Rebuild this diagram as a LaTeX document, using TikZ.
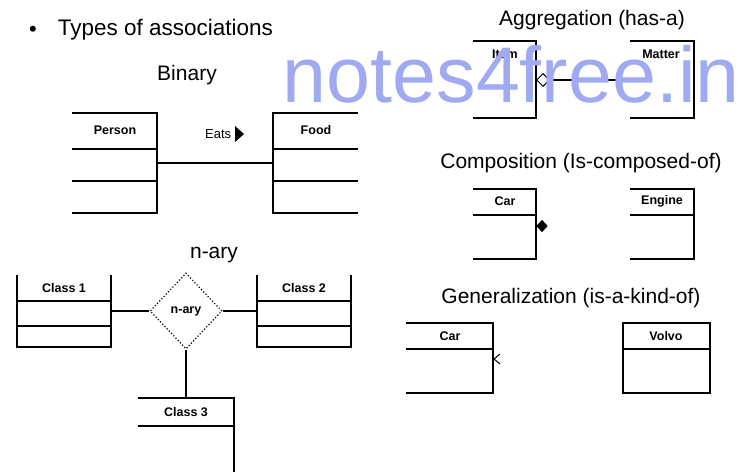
\documentclass[tikz,border=0pt]{standalone}
\usepackage{fontspec}
\setmainfont{Liberation Sans}
\usetikzlibrary{shapes.geometric,arrows.meta}
\definecolor{markblue}{RGB}{160,170,242}

\begin{document}
\begin{tikzpicture}[x=1pt,y=-1pt,line width=1.6pt,
  heading/.style={font=\fontsize{21}{23}\selectfont, inner sep=0pt},
  clsname/.style={font=\bfseries\fontsize{12.5}{14}\selectfont, inner sep=0pt},
  rel/.style={line width=1.6pt}]
\useasboundingbox (0,0) rectangle (739,472);

% headings
\node[anchor=center, inner sep=0pt, font=\fontsize{22}{22}\selectfont] (dot) at (33,31) {\textbullet};
\node[heading, anchor=west, font=\fontsize{22.5}{24}\selectfont] (types) at (57,30) {Types of associations};
\node[heading] (binary) at (187,75) {Binary};
\node[heading] (naryhead) at (214,255) {n-ary};
\node[heading] (agghead) at (592,20) {Aggregation (has-a)};
\node[heading] (comphead) at (581,163) {Composition (Is-composed-of)};
\node[heading] (genhead) at (571,298) {Generalization (is-a-kind-of)};

% binary
\draw (72,113) -- (157,113) -- (157,213) -- (72,213);
\draw (72,149) -- (157,149);
\draw (72,181) -- (157,181);
\node[clsname] (person) at (115,130) {Person};
\draw (358,113) -- (273,113) -- (273,213) -- (358,213);
\draw (273,149) -- (358,149);
\draw (273,181) -- (358,181);
\node[clsname] (food) at (316,130) {Food};
\coordinate (person-e) at (157,163);
\coordinate (food-w) at (273,163);
\draw[rel] (person-e) -- (food-w);
\node[clsname, font=\fontsize{13}{15}\selectfont, anchor=east] (eats) at (232,134) {Eats};
\fill (235,126) -- (244,134) -- (235,142) -- cycle;

% n-ary
\draw (17,275) -- (17,347) -- (111,347) -- (111,275);
\draw (17,301) -- (111,301);
\draw (17,326) -- (111,326);
\node[clsname] (class1) at (64,288) {Class 1};
\draw (257,275) -- (257,347) -- (351,347) -- (351,275);
\draw (257,301) -- (351,301);
\draw (257,326) -- (351,326);
\node[clsname] (class2) at (304,288) {Class 2};
\draw (138,398) -- (234,398) -- (234,472);
\draw (138,426) -- (234,426);
\node[clsname] (class3) at (186,412) {Class 3};
\node[diamond, draw, dotted, line width=1.2pt, minimum width=72pt, minimum height=76pt,
  inner sep=0pt, clsname] (nary) at (186,311) {n-ary};
\coordinate (class1-e) at (111,311);
\coordinate (class2-w) at (257,311);
\coordinate (class3-n) at (186,398);
\draw[rel] (class1-e) -- (nary.west);
\draw[rel] (nary.east) -- (class2-w);
\draw[rel] (nary.south) -- (class3-n);

% aggregation
\draw (473,41) -- (536,41) -- (536,118) -- (473,118);
\node[clsname] (item) at (505,54) {Item};
\draw (630,41) -- (694,41) -- (694,118) -- (630,118);
\node[clsname] (matter) at (661,54) {Matter};
\coordinate (item-e) at (536,80);
\coordinate (matter-w) at (630,80);
\draw[rel, {Diamond[open, length=14pt, width=14pt, line width=1pt]}-] (item-e) -- (matter-w);

% composition
\draw (473,189) -- (536,189) -- (536,259) -- (473,259);
\draw (473,215) -- (536,215);
\node[clsname] (car) at (505,201) {Car};
\draw (630,189) -- (694,189) -- (694,259) -- (630,259);
\draw (630,215) -- (694,215);
\node[clsname] (engine) at (662,201) {Engine};
\node[diamond, fill, inner sep=0pt, minimum width=12pt, minimum height=13pt] (whole) at (542,226) {};

% generalization
\draw (406,323) -- (493,323) -- (493,393) -- (406,393);
\draw (406,349) -- (493,349);
\node[clsname] (carbase) at (450,336) {Car};
\draw (623,323) rectangle (710,393);
\draw (623,349) -- (710,349);
\node[clsname] (volvo) at (666,336) {Volvo};
\draw[line width=1pt] (500,354) -- (494,359) -- (500,364);

% watermark
\node[anchor=base west, inner sep=0pt, text=markblue, font=\fontsize{79}{80}\selectfont] (mark) at (282,102) {notes4free.in};
\end{tikzpicture}
\end{document}
